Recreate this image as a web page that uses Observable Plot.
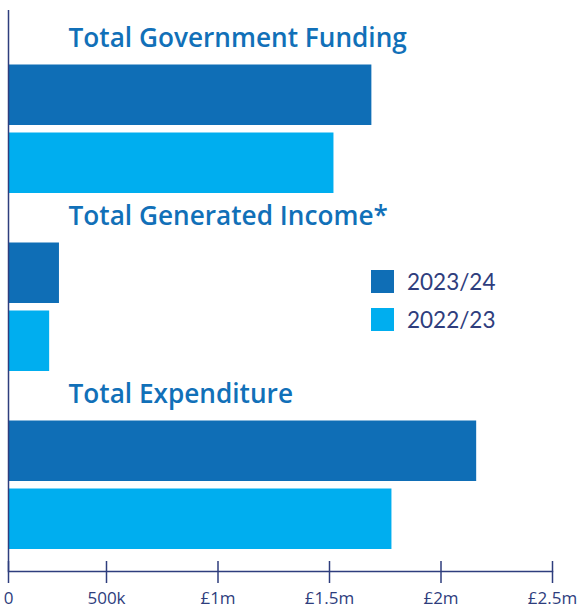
<!DOCTYPE html>
<html>
<head>
<meta charset="utf-8">
<script src="https://cdn.jsdelivr.net/npm/d3@7"></script>
<script src="https://cdn.jsdelivr.net/npm/@observablehq/plot@0.6"></script>
<style>
  html, body { margin: 0; padding: 0; background: #fff; }
  #wrap { position: relative; width: 582px; height: 608px; font-family: Lato, "Open Sans", sans-serif; }
  #legend { position: absolute; left: 371px; top: 270px; }
  .item { display: flex; align-items: center; height: 23px; margin-bottom: 15px; }
  .sw { width: 23px; height: 23px; margin-right: 13px; }
  .lab { font-size: 22.5px; color: #2e3d7d; font-weight: 400; }
</style>
</head>
<body>
<div id="wrap"></div>
<script>
const groups = ["Total Government Funding", "Total Generated Income*", "Total Expenditure"];
const years = ["2023/24", "2022/23"];
const values2324 = [1690000, 260000, 2160000];
const values2223 = [1520000, 210000, 1780000];
const tickValues = [0, 500000, 1000000, 1500000, 2000000, 2500000];
const tickLabels = ["0", "500k", "£1m", "£1.5m", "£2m", "£2.5m"];
const colors = ["#0f6eb6", "#00aeef"];

const navy = "#2e3d7d";
const titleColor = "#1170b8";

const rows2324 = groups.map((g, i) => ({group: g, year: years[0], value: values2324[i]}));
const rows2223 = groups.map((g, i) => ({group: g, year: years[1], value: values2223[i]}));

const chart = Plot.plot({
  width: 582,
  height: 608,
  marginTop: 10,
  marginLeft: 8,
  marginRight: 30,
  marginBottom: 37,
  style: {fontFamily: "Lato, 'Open Sans', sans-serif", background: "transparent"},
  x: {type: "linear", domain: [0, 500000, 2500000], range: [8, 106, 552], axis: null},
  y: {domain: groups, padding: 0, insetTop: 4.5, insetBottom: 21, axis: null},
  marks: [
    Plot.barX(rows2324, {x: "value", y: "group", fill: colors[0], insetTop: 49.5, insetBottom: 68}),
    Plot.barX(rows2223, {x: "value", y: "group", fill: colors[1], insetTop: 117.5, insetBottom: 0}),
    Plot.text(groups, {
      y: d => d, text: d => d, frameAnchor: "left", textAnchor: "start",
      dx: 60, dy: -65.5, fontSize: 26.2, fontWeight: 600, fill: titleColor,
      fontFamily: "'Open Sans', sans-serif"
    }),
    Plot.ruleX([0], {stroke: navy, strokeWidth: 1.5}),
    Plot.frame({anchor: "bottom", stroke: navy, strokeWidth: 1.5}),
    Plot.axisX({ticks: tickValues, tickSize: 22, dy: -10, fill: "none", stroke: navy, strokeWidth: 1.5, label: null}),
    Plot.axisX({ticks: tickValues, tickSize: 0, tickPadding: 20.5, fontSize: 17, fill: navy,
      fontFamily: "'Open Sans', sans-serif",
      tickFormat: d => tickLabels[tickValues.indexOf(d)], label: null})
  ]
});

const wrap = document.getElementById("wrap");
wrap.appendChild(chart);

const legend = document.createElement("div");
legend.id = "legend";
years.forEach((y, i) => {
  const item = document.createElement("div");
  item.className = "item";
  const sw = document.createElement("div");
  sw.className = "sw";
  sw.style.background = colors[i];
  const lab = document.createElement("span");
  lab.className = "lab";
  lab.textContent = y;
  item.appendChild(sw);
  item.appendChild(lab);
  legend.appendChild(item);
});
wrap.appendChild(legend);
</script>
</body>
</html>
